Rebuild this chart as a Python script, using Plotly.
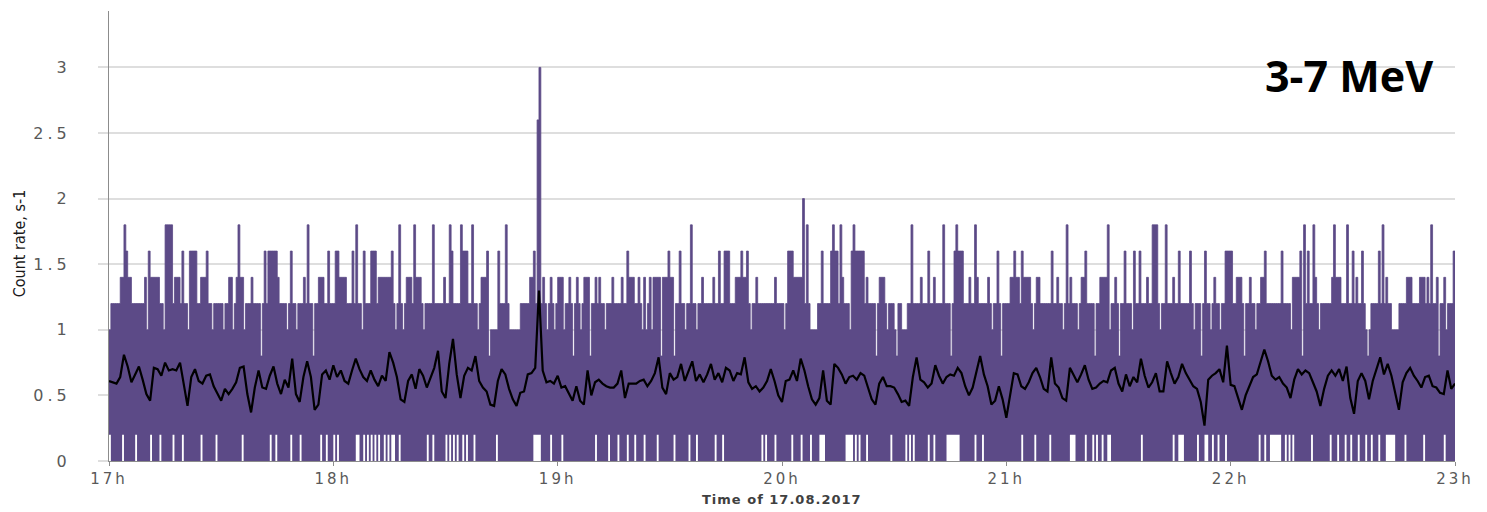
import plotly.graph_objects as go

START_HOUR = 17
SPAN_MIN = 360          # 17h .. 23h
SLOT_MIN = 0.5          # resolution of the drawn envelope, minutes
BIN_SEC = 5             # counts are accumulated in 5-s bins
BASE_COUNTS = 6         # usual ceiling of the 5-s trace (1.2 s-1)

hour_ticks = [17, 18, 19, 20, 21, 22, 23]
hour_labels = ["17h", "18h", "19h", "20h", "21h", "22h", "23h"]
rate_ticks = [0, 0.5, 1, 1.5, 2, 2.5, 3]
rate_labels = ["0", "0.5", "1", "1.5", "2", "2.5", "3"]

# Stretches where the ceiling of the 5-s counts differs from the base level:
# (from minute, to minute, counts per 5 s), minutes counted from 17:00
ceiling_runs = [
    (3.0, 5.6, 7), (11.3, 13.2, 7), (15.0, 16.6, 9), (17.7, 18.6, 7), (21.7, 23.2, 8),
    (24.8, 25.7, 7), (32.4, 33.0, 7), (34.2, 36.0, 7), (42.7, 44.6, 8), (56.0, 57.4, 7),
    (61.9, 63.2, 7), (70.4, 71.3, 8), (72.1, 73.0, 7), (73.9, 75.7, 7), (79.7, 80.6, 7),
    (82.4, 83.3, 7), (94.9, 95.8, 8), (99.8, 100.7, 7), (102.1, 103.8, 5), (107.4, 109.6, 5),
    (112.8, 113.7, 7), (120.3, 121.3, 7),
    (127.4, 128.3, 7), (139.1, 140.0, 7), (145.4, 148.0, 7), (148.5, 150.8, 7),
    (164.6, 165.9, 8), (167.7, 170.4, 7),
    (181.9, 183.1, 8), (183.1, 185.0, 7), (187.7, 189.1, 5), (193.1, 194.9, 8),
    (198.9, 201.6, 8), (206.0, 207.4, 7), (212.3, 213.2, 5), (226.1, 228.4, 8),
    (241.3, 243.1, 7), (244.9, 246.3, 7), (248.0, 248.9, 7), (260.1, 261.4, 7),
    (265.0, 266.8, 7), (279.1, 280.4, 9), (298.5, 299.8, 8),
    (301.6, 302.5, 7), (308.2, 309.2, 7), (316.8, 318.2, 7), (327.1, 329.3, 7),
    (336.0, 337.4, 5), (343.2, 344.9, 5), (347.2, 348.1, 7), (350.7, 351.6, 7),
]

# Single 5-s excursions of the ceiling (minute, counts per 5 s)
excursions_17h = [
    (0.3, 5), (4.1, 9), (4.7, 8), (9.5, 7), (10.0, 5), (10.7, 8), (14.6, 5), (19.6, 8),
    (21.0, 5), (26.0, 8), (27.5, 5), (30.6, 5), (33.3, 5), (34.9, 9), (36.4, 5), (38.2, 7),
    (40.9, 4), (41.6, 8), (45.4, 7), (47.6, 5), (48.5, 8), (50.3, 5), (52.3, 7), (53.2, 9),
    (54.5, 4), (58.6, 8),
]
excursions_18h = [
    (60.5, 8), (61.0, 8), (65.0, 8), (66.2, 9), (67.7, 5), (68.4, 8), (75.5, 8), (76.6, 5),
    (77.8, 9), (78.8, 5), (81.8, 9), (84.2, 5), (86.7, 9), (89.6, 7), (91.2, 9), (91.8, 8),
    (94.3, 9), (97.4, 9), (98.5, 5), (101.0, 8), (101.6, 4), (104.1, 8), (106.1, 9),
    (113.5, 8), (114.9, 13), (115.3, 15), (116.3, 7), (117.2, 5), (118.1, 7), (119.0, 5),
]
excursions_19h = [
    (120.8, 7), (121.7, 5), (123.1, 7), (124.4, 4), (125.3, 7), (126.2, 5), (128.7, 4),
    (130.0, 7), (131.4, 7), (132.7, 5), (134.5, 7), (137.2, 7), (138.7, 8), (141.8, 7),
    (142.5, 5), (143.2, 7), (143.8, 5), (144.5, 7), (145.2, 5), (147.9, 4), (149.9, 8),
    (151.4, 4), (152.5, 8), (154.3, 5), (155.5, 9), (157.0, 5), (158.8, 7), (161.5, 7),
    (163.3, 8), (169.0, 8), (170.8, 8), (171.7, 5), (173.1, 7), (178.4, 7),
]
excursions_20h = [
    (180.7, 5), (185.5, 10), (186.7, 9), (190.9, 8), (193.5, 9), (195.6, 9), (196.2, 7),
    (198.0, 5), (199.2, 9), (202.9, 7), (205.1, 4), (208.3, 5), (210.0, 5), (210.9, 4),
    (214.8, 9), (217.2, 7), (219.0, 8), (220.8, 7), (223.3, 9), (225.2, 4), (226.8, 9),
    (230.1, 7), (231.5, 9), (232.4, 7), (235.0, 7), (236.0, 5), (237.6, 8), (238.6, 4),
]
excursions_21h = [
    (242.0, 8), (244.0, 8), (247.1, 5), (252.3, 8), (253.8, 7), (255.2, 5), (256.1, 9),
    (257.0, 7), (259.2, 5), (261.2, 8), (263.7, 4), (267.2, 9), (267.9, 5), (269.0, 7),
    (270.4, 4), (271.7, 8), (273.8, 5), (274.4, 8), (275.7, 8), (277.9, 7), (281.1, 5),
    (282.7, 9), (284.6, 7), (286.4, 8), (289.1, 8), (290.0, 5), (292.1, 4), (293.1, 8),
    (294.5, 5), (295.8, 7), (297.1, 5),
]
excursions_22h = [
    (300.3, 8), (303.9, 4), (305.2, 7), (306.6, 5), (309.2, 8), (313.5, 8), (316.4, 5),
    (318.6, 8), (319.1, 4), (319.8, 9), (320.8, 8), (322.0, 9), (322.6, 7), (323.7, 5),
    (327.8, 9), (331.1, 9), (332.7, 8), (333.8, 7), (335.3, 8), (336.9, 4), (339.6, 8),
    (340.9, 9), (341.8, 7), (352.5, 7), (353.7, 9), (355.0, 7), (355.9, 4), (357.0, 7),
    (357.9, 5), (359.7, 8),
]

# Minutes in which the 5-s counts never fell to zero (floor stays at 1 count)
floor_lifts = [
    0.3, 3.8, 7.3, 11.4, 13.9, 17.1, 19.8, 24.6, 28.9, 35.7, 43.1, 44.9, 48.9, 51.4,
    56.5, 58.1,
    60.1, 61.0, 66.2, 66.8, 68.1, 69.2, 70.1, 71.3, 72.4, 73.5, 74.6, 75.5, 76.4, 77.5,
    85.1, 86.9, 90.3, 91.2, 92.2, 93.1, 94.7, 95.8, 97.6, 103.8, 113.8, 114.3, 114.8,
    115.3, 118.1,
    121.3, 130.0, 133.6, 136.0, 138.7, 140.9, 143.4, 146.7, 151.2, 155.2, 157.4, 162.2,
    164.1, 174.9, 175.8, 178.4,
    182.8, 185.1, 187.7, 190.4, 190.9, 191.3, 197.1, 197.6, 198.1, 198.5, 199.8, 200.7,
    202.5, 209.2, 213.2, 214.1, 215.4, 219.4, 220.8, 224.3, 224.8, 225.3, 225.8, 226.3,
    226.8, 227.3, 231.9, 233.7,
    244.0, 247.6, 251.6, 257.0, 257.5, 258.0, 261.4, 263.0, 264.3, 265.9, 267.2, 267.7,
    276.2, 284.6, 286.4, 286.9, 287.4, 291.3, 293.1, 293.6, 295.4, 296.7, 298.9,
    307.9, 309.2, 310.6, 311.1, 311.6, 312.1, 312.6, 313.1, 314.6, 315.9, 316.8, 321.7,
    326.6, 328.9, 330.7, 332.4, 334.1, 336.0, 337.8, 339.6, 341.8, 342.3, 342.8, 343.3,
    343.8, 346.7, 351.6, 357.0,
]

# One-minute running mean of the count rate, s-1
mean_17h = [
    0.61, 0.60, 0.59, 0.64, 0.81, 0.72, 0.60, 0.66, 0.72, 0.62,
    0.51, 0.46, 0.71, 0.70, 0.65, 0.75, 0.69, 0.70, 0.69, 0.75,
    0.59, 0.42, 0.64, 0.70, 0.61, 0.59, 0.65, 0.66, 0.57, 0.51,
    0.46, 0.55, 0.51, 0.55, 0.60, 0.71, 0.72, 0.51, 0.37, 0.56,
    0.69, 0.56, 0.55, 0.65, 0.72, 0.59, 0.51, 0.62, 0.56, 0.78,
    0.51, 0.45, 0.64, 0.76, 0.64, 0.39, 0.43, 0.66, 0.69, 0.62,
]
mean_18h = [
    0.73, 0.64, 0.69, 0.61, 0.59, 0.69, 0.78, 0.70, 0.64, 0.61,
    0.69, 0.62, 0.57, 0.65, 0.61, 0.83, 0.75, 0.64, 0.47, 0.45,
    0.61, 0.66, 0.55, 0.70, 0.65, 0.56, 0.64, 0.71, 0.84, 0.53,
    0.48, 0.74, 0.93, 0.66, 0.48, 0.65, 0.71, 0.69, 0.80, 0.61,
    0.56, 0.53, 0.43, 0.42, 0.61, 0.70, 0.66, 0.55, 0.47, 0.42,
    0.52, 0.53, 0.66, 0.67, 0.71, 1.30, 0.69, 0.60, 0.61, 0.59,
]
mean_19h = [
    0.65, 0.56, 0.57, 0.51, 0.46, 0.57, 0.46, 0.43, 0.69, 0.50,
    0.60, 0.62, 0.59, 0.57, 0.56, 0.56, 0.59, 0.69, 0.48, 0.59,
    0.59, 0.59, 0.61, 0.62, 0.57, 0.61, 0.67, 0.79, 0.56, 0.51,
    0.67, 0.62, 0.64, 0.74, 0.61, 0.69, 0.76, 0.61, 0.66, 0.60,
    0.66, 0.74, 0.62, 0.67, 0.60, 0.71, 0.69, 0.61, 0.67, 0.66,
    0.79, 0.60, 0.55, 0.57, 0.53, 0.56, 0.61, 0.70, 0.61, 0.50,
]
mean_20h = [
    0.45, 0.61, 0.62, 0.69, 0.61, 0.78, 0.69, 0.57, 0.47, 0.43,
    0.48, 0.69, 0.46, 0.43, 0.74, 0.71, 0.66, 0.59, 0.64, 0.65,
    0.62, 0.67, 0.65, 0.56, 0.47, 0.43, 0.59, 0.64, 0.57, 0.57,
    0.56, 0.51, 0.45, 0.46, 0.42, 0.64, 0.79, 0.62, 0.60, 0.56,
    0.59, 0.73, 0.65, 0.59, 0.64, 0.66, 0.65, 0.71, 0.67, 0.57,
    0.50, 0.56, 0.69, 0.80, 0.66, 0.57, 0.43, 0.46, 0.57, 0.47,
]
mean_21h = [
    0.33, 0.50, 0.67, 0.66, 0.57, 0.55, 0.60, 0.67, 0.71, 0.64,
    0.55, 0.53, 0.79, 0.59, 0.56, 0.48, 0.46, 0.71, 0.66, 0.60,
    0.66, 0.73, 0.62, 0.55, 0.56, 0.59, 0.61, 0.60, 0.69, 0.71,
    0.59, 0.53, 0.66, 0.57, 0.64, 0.60, 0.78, 0.65, 0.56, 0.60,
    0.67, 0.53, 0.53, 0.76, 0.67, 0.59, 0.64, 0.74, 0.67, 0.62,
    0.57, 0.55, 0.45, 0.27, 0.62, 0.65, 0.67, 0.70, 0.60, 0.88,
]
mean_22h = [
    0.58, 0.57, 0.48, 0.39, 0.50, 0.57, 0.64, 0.66, 0.75, 0.85,
    0.76, 0.65, 0.62, 0.64, 0.59, 0.56, 0.48, 0.62, 0.70, 0.66,
    0.69, 0.67, 0.60, 0.53, 0.42, 0.55, 0.65, 0.69, 0.65, 0.70,
    0.61, 0.72, 0.48, 0.36, 0.61, 0.67, 0.61, 0.47, 0.61, 0.71,
    0.79, 0.66, 0.74, 0.65, 0.53, 0.39, 0.60, 0.67, 0.71, 0.65,
    0.61, 0.56, 0.64, 0.65, 0.57, 0.56, 0.52, 0.51, 0.69, 0.55,
    0.59,
]

# ---- envelope of the 5-s count rate on a 30-s grid ----
n_slots = int(SPAN_MIN / SLOT_MIN)
ceiling_counts = [BASE_COUNTS] * n_slots
for t0, t1, c in ceiling_runs:
    for k in range(int(t0 / SLOT_MIN), min(int(t1 / SLOT_MIN) + 1, n_slots)):
        ceiling_counts[k] = c
for group in (excursions_17h, excursions_18h, excursions_19h,
              excursions_20h, excursions_21h, excursions_22h):
    for t, c in group:
        ceiling_counts[min(int(t / SLOT_MIN), n_slots - 1)] = c

floor_counts = [0] * n_slots
for t in floor_lifts:
    floor_counts[min(int(t / SLOT_MIN), n_slots - 1)] = 1

edges = [START_HOUR + k * SLOT_MIN / 60 for k in range(n_slots + 1)]
upper = [c / BIN_SEC for c in ceiling_counts] + [ceiling_counts[-1] / BIN_SEC]
lower = [c / BIN_SEC for c in floor_counts] + [floor_counts[-1] / BIN_SEC]

running_mean = mean_17h + mean_18h + mean_19h + mean_20h + mean_21h + mean_22h
mean_x = [START_HOUR + i / 60 for i in range(len(running_mean))]

PURPLE = "#5c4a87"

fig = go.Figure()
fig.add_trace(go.Scatter(
    x=edges, y=lower, mode="lines", line=dict(width=0, shape="hv", simplify=False),
    hoverinfo="skip", showlegend=False,
))
fig.add_trace(go.Scatter(
    x=edges, y=upper, mode="lines", fill="tonexty", fillcolor=PURPLE,
    line=dict(color=PURPLE, width=0.8, shape="hv", simplify=False),
    showlegend=False, name="5-s count rate",
))
fig.add_trace(go.Scatter(
    x=mean_x, y=running_mean, mode="lines",
    line=dict(color="#000000", width=2.2), showlegend=False, name="running mean",
))

fig.update_layout(
    width=1487, height=512,
    margin=dict(l=109, r=32, t=11, b=51),
    paper_bgcolor="white", plot_bgcolor="white",
    xaxis=dict(
        range=[17, 23], tickvals=hour_ticks, ticktext=hour_labels,
        showgrid=False, zeroline=False, showline=True, linecolor="#8c8c8c", linewidth=1,
        ticks="outside", ticklen=4, tickcolor="#8c8c8c",
        tickfont=dict(family="DejaVu Sans", size=15, color="#595959"),
    ),
    yaxis=dict(
        range=[0, 3.43], tickvals=rate_ticks, ticktext=rate_labels,
        showgrid=True, gridcolor="#dedede", gridwidth=2, zeroline=False,
        showline=True, linecolor="#8c8c8c", linewidth=1,
        ticks="outside", ticklen=10, tickcolor="#dedede", tickwidth=2,
        ticklabelstandoff=24,
        tickfont=dict(family="DejaVu Sans", size=16, color="#595959"),
    ),
    annotations=[
        dict(text="Time of 17.08.2017", xref="paper", yref="paper", x=0.5, y=-0.085,
             xanchor="center", yanchor="middle", showarrow=False,
             font=dict(family="DejaVu Sans", size=13, color="#404040", weight="bold")),
        dict(text="Count rate, s-1", xref="paper", yref="paper", x=-0.0665, y=0.485,
             xanchor="center", yanchor="middle", textangle=-90, showarrow=False,
             font=dict(family="Liberation Sans Narrow, DejaVu Sans Condensed, Liberation Sans",
                       size=16, color="#1a1a1a")),
        dict(text="3-7 MeV", xref="paper", yref="paper", x=0.921, y=0.857,
             xanchor="center", yanchor="middle", showarrow=False,
             font=dict(family="Open Sans", size=43, color="#000000", weight="bold")),
        dict(text="Time of 17.08.2017", xref="paper", yref="paper", x=0.5115, y=1.0100,
             xanchor="center", yanchor="bottom", showarrow=False,
             font=dict(family="DejaVu Sans", size=18, color="#8c8c8c", weight="bold")),
    ],
)

spacing_js = """
document.querySelectorAll('.xtick text').forEach(function (t) { t.style.letterSpacing = '3px'; });
document.querySelectorAll('.ytick text').forEach(function (t) { t.style.letterSpacing = '4px'; });
document.querySelectorAll('.annotation-text').forEach(function (t) {
    if (t.textContent === 'Time of 17.08.2017') { t.style.letterSpacing = '1px'; }
});
"""

fig.write_html("out.html", post_script=spacing_js)
